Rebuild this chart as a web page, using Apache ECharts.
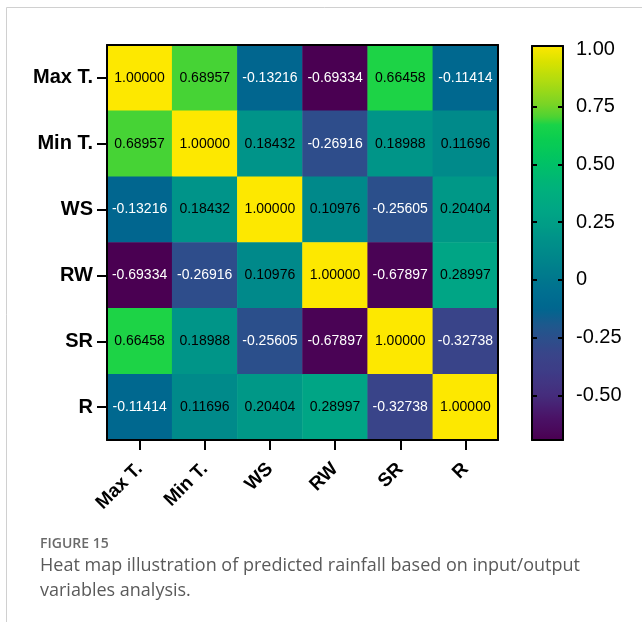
<!DOCTYPE html>
<html>
<head>
<meta charset="utf-8">
<script src="https://cdn.jsdelivr.net/npm/echarts@6/dist/echarts.min.js"></script>
<style>
html,body{margin:0;padding:0;background:#fff;}
#chart{width:642px;height:622px;}
</style>
</head>
<body>
<div id="chart"></div>
<script>
// ---- data ----
const variables = ['Max T.', 'Min T.', 'WS', 'RW', 'SR', 'R'];
const rowMaxT = [1.00000, 0.68957, -0.13216, -0.69334, 0.66458, -0.11414];
const rowMinT = [0.68957, 1.00000, 0.18432, -0.26916, 0.18988, 0.11696];
const rowWS   = [-0.13216, 0.18432, 1.00000, 0.10976, -0.25605, 0.20404];
const rowRW   = [-0.69334, -0.26916, 0.10976, 1.00000, -0.67897, 0.28997];
const rowSR   = [0.66458, 0.18988, -0.25605, -0.67897, 1.00000, -0.32738];
const rowR    = [-0.11414, 0.11696, 0.20404, 0.28997, -0.32738, 1.00000];
const colorbarTicks = [1, 0.75, 0.5, 0.25, 0, -0.25, -0.5];
const scaleMin = -0.69334;
const scaleMax = 1;

const rows = [rowMaxT, rowMinT, rowWS, rowRW, rowSR, rowR];

// colour anchors (value -> colour) approximating the figure's viridis-like map
const anchors = [
  [-0.69334, '#4a0052'], [-0.6, '#4a1266'], [-0.5, '#452d7d'], [-0.4, '#3e3c86'],
  [-0.32738, '#394489'], [-0.26, '#2c4e8b'], [-0.2, '#1e588d'], [-0.13, '#00668f'],
  [-0.05, '#007090'], [0.0, '#00788d'], [0.11, '#00898a'], [0.18, '#009389'],
  [0.21, '#009a87'], [0.29, '#00a585'], [0.4, '#00b37a'], [0.5, '#00c265'],
  [0.6, '#0acd50'], [0.665, '#1ad348'], [0.69, '#48d334'], [0.75, '#7ad425'],
  [0.85, '#b0dc10'], [0.93, '#d8e200'], [1.0, '#fde800']
];
function hex2rgb(h){return [parseInt(h.slice(1,3),16),parseInt(h.slice(3,5),16),parseInt(h.slice(5,7),16)];}
function colorAt(v){
  for (let i=0;i<anchors.length-1;i++){
    const a=anchors[i], b=anchors[i+1];
    if (v<=b[0]){
      const t=Math.max(0,(v-a[0])/(b[0]-a[0]));
      const ca=hex2rgb(a[1]), cb=hex2rgb(b[1]);
      const c=ca.map((x,k)=>Math.round(x+(cb[k]-x)*t));
      return 'rgb('+c.join(',')+')';
    }
  }
  return anchors[anchors.length-1][1];
}
const NSTOP = 170;
const stops = [];
for (let i=0;i<=NSTOP;i++) stops.push(colorAt(scaleMin + (scaleMax-scaleMin)*i/NSTOP));

const heatData = [];
rows.forEach((r, yi) => r.forEach((v, xi) => {
  heatData.push({value:[xi, yi, v], label:{color: v < 0 ? '#ffffff' : '#000000'}});
}));

const FONT = 'Liberation Sans, Arial, Helvetica, sans-serif';
const G = {left:107, top:45, width:391, height:395};
const CB = {left:532, top:46, width:31, height:394};
const cbAxisMax = 1.013; // colorbar axis extends slightly above top tick, as in the figure
const innerTicks = colorbarTicks.filter(v => v < 1);

const chart = echarts.init(document.getElementById('chart'), null, {renderer:'canvas'});
const axisLineBlack = {show:true, onZero:false, lineStyle:{color:'#000', width:2}};
const plainAxis = {axisLine:axisLineBlack, axisTick:{show:false}, axisLabel:{show:false}, splitLine:{show:false}};

chart.setOption({
  animation:false,
  backgroundColor:'#ffffff',
  grid:[
    Object.assign({containLabel:false}, G),
    Object.assign({containLabel:false}, CB),
    // helper grid on the colour bar: its y axis sits on x=0 (left edge) with ticks pointing right
    Object.assign({containLabel:false}, CB)
  ],
  xAxis:[
    {type:'category', gridIndex:0, data:variables, position:'bottom', z:10,
     axisLine:axisLineBlack,
     axisTick:{show:true, alignWithLabel:true, length:10, lineStyle:{color:'#000', width:2}},
     axisLabel:{rotate:45, margin:26, color:'#000', fontWeight:'bold', fontSize:19, fontFamily:FONT, interval:0},
     splitLine:{show:false}},
    Object.assign({type:'value', gridIndex:0, position:'top', min:0, max:1, z:10}, plainAxis),
    Object.assign({type:'value', gridIndex:1, position:'bottom', min:0, max:1, zlevel:1, z:10}, plainAxis),
    Object.assign({type:'value', gridIndex:1, position:'top', min:0, max:1, zlevel:1, z:10}, plainAxis),
    {type:'value', gridIndex:2, min:0, max:1, show:false}
  ],
  yAxis:[
    {type:'category', gridIndex:0, data:variables, inverse:true, position:'left', z:10,
     axisLine:axisLineBlack,
     axisTick:{show:true, alignWithLabel:true, length:10, lineStyle:{color:'#000', width:2}},
     axisLabel:{margin:14, color:'#000', fontWeight:'bold', fontSize:20, fontFamily:FONT},
     splitLine:{show:false}},
    Object.assign({type:'value', gridIndex:0, position:'right', min:0, max:1, z:10}, plainAxis),
    Object.assign({type:'value', gridIndex:1, position:'left', min:scaleMin, max:cbAxisMax, zlevel:1, z:10}, plainAxis),
    {type:'value', gridIndex:1, position:'right', min:scaleMin, max:cbAxisMax, zlevel:1, z:10,
     axisLine:axisLineBlack,
     axisTick:{show:true, inside:true, length:5, lineStyle:{color:'#000', width:2}, customValues:innerTicks},
     axisLabel:{show:true, margin:13, color:'#000', fontSize:20, fontFamily:FONT,
       customValues:colorbarTicks,
       formatter:v => (Math.abs(v) < 1e-9 ? '0' : Number(v).toFixed(2))},
     splitLine:{show:false}},
    // ticks along the left edge of the colour bar, pointing into the bar (axis placed on x=0)
    {type:'value', gridIndex:2, position:'right', min:scaleMin, max:cbAxisMax, zlevel:1, z:11,
     axisLine:{show:false, onZero:true},
     axisTick:{show:true, inside:false, length:5, lineStyle:{color:'#000', width:2}, customValues:innerTicks},
     axisLabel:{show:false, customValues:innerTicks},
     splitLine:{show:false}}
  ],
  visualMap:{
    type:'continuous', min:scaleMin, max:scaleMax, seriesIndex:0, z:1,
    calculable:false, hoverLink:false, realtime:false,
    orient:'vertical', left:CB.left, top:CB.top, padding:0,
    itemWidth:CB.width, itemHeight:CB.height,
    inRange:{color:stops}, text:null, showLabel:false
  },
  series:[{
    type:'heatmap', xAxisIndex:0, yAxisIndex:0,
    data:heatData,
    itemStyle:{borderWidth:0},
    label:{show:true, fontSize:14, fontFamily:FONT, formatter:p => p.value[2].toFixed(5)},
    emphasis:{disabled:true}
  }],
  graphic:[
    {type:'line', shape:{x1:6.5, y1:7.5, x2:642, y2:7.5}, style:{stroke:'#d0d0d0', lineWidth:1}},
    {type:'line', shape:{x1:6.5, y1:7.5, x2:6.5, y2:622}, style:{stroke:'#d0d0d0', lineWidth:1}},
    {type:'text', left:40, top:537, style:{text:'FIGURE 15', font:'600 14px "Open Sans", sans-serif', fill:'#6a6a6a'}},
    {type:'text', left:40, top:557, style:{text:'Heat map illustration of predicted rainfall based on input/output', font:'18px "Open Sans", sans-serif', fill:'#5a5a5a'}},
    {type:'text', left:40, top:582, style:{text:'variables analysis.', font:'18px "Open Sans", sans-serif', fill:'#5a5a5a'}}
  ]
});
</script>
</body>
</html>
